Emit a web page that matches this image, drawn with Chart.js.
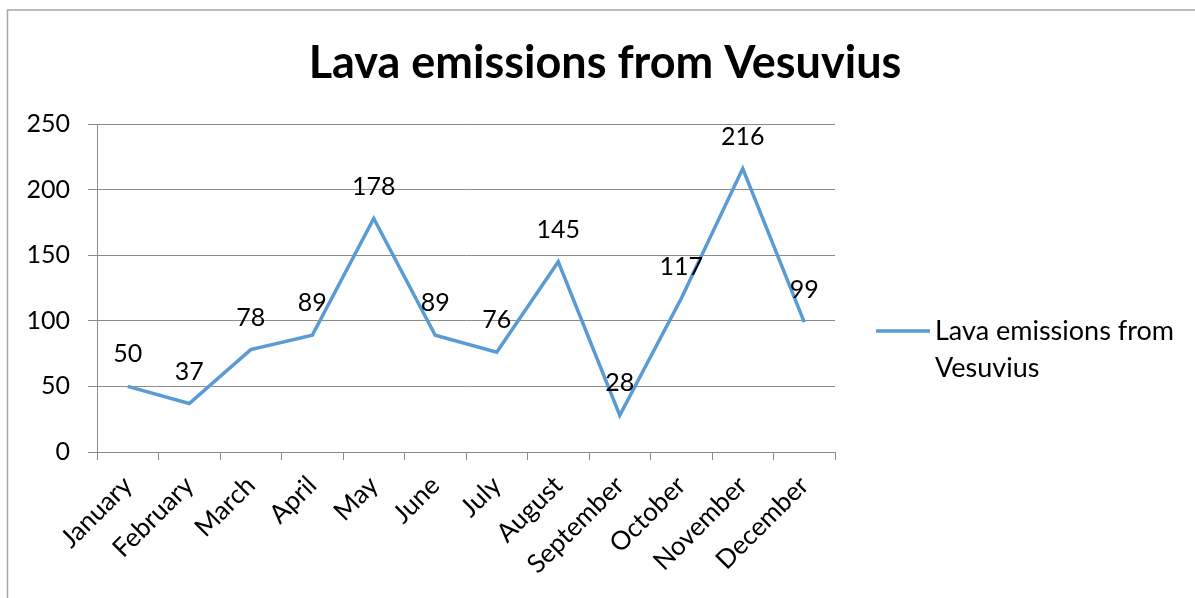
<!DOCTYPE html>
<html>
<head>
<meta charset="utf-8">
<script src="https://cdn.jsdelivr.net/npm/chart.js@4.4.1/dist/chart.umd.min.js"></script>
<style>
    html, body { margin: 0; padding: 0; background: #ffffff; }
    #chart { display: block; }
</style>
</head>
<body>
<canvas id="chart" width="1195" height="598"></canvas>
<script>
// chart data
const months = ['January', 'February', 'March', 'April', 'May', 'June', 'July', 'August', 'September', 'October', 'November', 'December'];
const lavaValues = [50, 37, 78, 89, 178, 89, 76, 145, 28, 117, 216, 99];
const seriesName = 'Lava emissions from Vesuvius';
const chartTitle = 'Lava emissions from Vesuvius';
const yTicks = [0, 50, 100, 150, 200, 250];

const FONT = 'Lato, Carlito, Calibri, sans-serif';
const GRID = '#8c8c8c';

// Outer frame like the spreadsheet chart box, and the title
const framePlugin = {
    id: 'frame',
    beforeDraw(chart) {
        const ctx = chart.ctx;
        ctx.save();
        ctx.strokeStyle = '#a6a6a6';
        ctx.lineWidth = 1.5;
        ctx.strokeRect(7.5, 10, chart.width + 50, chart.height + 50);

        ctx.font = 'bold 45px ' + FONT;
        ctx.fillStyle = '#000000';
        ctx.textAlign = 'center';
        ctx.textBaseline = 'alphabetic';
        ctx.fillText(chartTitle, 605, 78);
        ctx.restore();
    }
};

// Value labels above each point
const valueLabels = {
    id: 'valueLabels',
    afterDatasetsDraw(chart) {
        const ctx = chart.ctx;
        ctx.save();
        ctx.font = '25px ' + FONT;
        ctx.fillStyle = '#000000';
        ctx.textAlign = 'center';
        ctx.textBaseline = 'middle';
        chart.data.datasets.forEach((ds, di) => {
            chart.getDatasetMeta(di).data.forEach((pt, i) => {
                ctx.fillText(ds.data[i], pt.x, pt.y - 32);
            });
        });
        ctx.restore();
    }
};

// Legend on the right, wrapped on two lines
const sideLegend = {
    id: 'sideLegend',
    afterDraw(chart) {
        const ctx = chart.ctx;
        const ds = chart.data.datasets[0];
        const x0 = chart.chartArea.right + 41;
        const y0 = 331;
        ctx.save();
        ctx.strokeStyle = ds.borderColor;
        ctx.lineWidth = 3.5;
        ctx.beginPath();
        ctx.moveTo(x0, y0);
        ctx.lineTo(x0 + 54, y0);
        ctx.stroke();

        ctx.font = '27px ' + FONT;
        ctx.fillStyle = '#000000';
        ctx.textAlign = 'left';
        ctx.textBaseline = 'alphabetic';
        const words = ds.label.split(' ');
        const lines = [];
        let cur = '';
        words.forEach(w => {
            const test = cur ? cur + ' ' + w : w;
            if (ctx.measureText(test).width > 250 && cur) {
                lines.push(cur);
                cur = w;
            } else {
                cur = test;
            }
        });
        lines.push(cur);
        lines.forEach((ln, i) => {
            ctx.fillText(ln, x0 + 59, 340 + i * 37);
        });
        ctx.restore();
    }
};

new Chart(document.getElementById('chart'), {
    type: 'line',
    data: {
        labels: months,
        datasets: [{
            label: seriesName,
            data: lavaValues,
            borderColor: '#5b9bd5',
            backgroundColor: '#5b9bd5',
            borderWidth: 3.5,
            pointRadius: 0,
            tension: 0,
            fill: false
        }]
    },
    options: {
        responsive: false,
        animation: false,
        layout: {
            padding: { left: 0, right: 360, top: 124, bottom: 0 }
        },
        plugins: {
            legend: { display: false },
            tooltip: { enabled: false },
            title: { display: false }
        },
        scales: {
            x: {
                offset: true,
                afterFit: (scale) => { scale.height = 146; },
                grid: {
                    offset: true,
                    drawOnChartArea: false,
                    drawTicks: true,
                    tickLength: 8,
                    color: GRID,
                    lineWidth: 1
                },
                border: { display: true, color: GRID, width: 1 },
                ticks: {
                    autoSkip: false,
                    minRotation: 45,
                    maxRotation: 45,
                    padding: 10,
                    color: '#000000',
                    font: { family: FONT, size: 26 }
                }
            },
            y: {
                min: 0,
                max: 250,
                afterFit: (scale) => { scale.width = 97; },
                afterBuildTicks: (scale) => { scale.ticks = yTicks.map(v => ({ value: v })); },
                grid: {
                    drawTicks: true,
                    tickLength: 9,
                    color: GRID,
                    lineWidth: 1
                },
                border: { display: true, color: GRID, width: 1 },
                ticks: {
                    padding: 18,
                    color: '#000000',
                    font: { family: FONT, size: 25 }
                }
            }
        }
    },
    plugins: [framePlugin, valueLabels, sideLegend]
});
</script>
</body>
</html>
